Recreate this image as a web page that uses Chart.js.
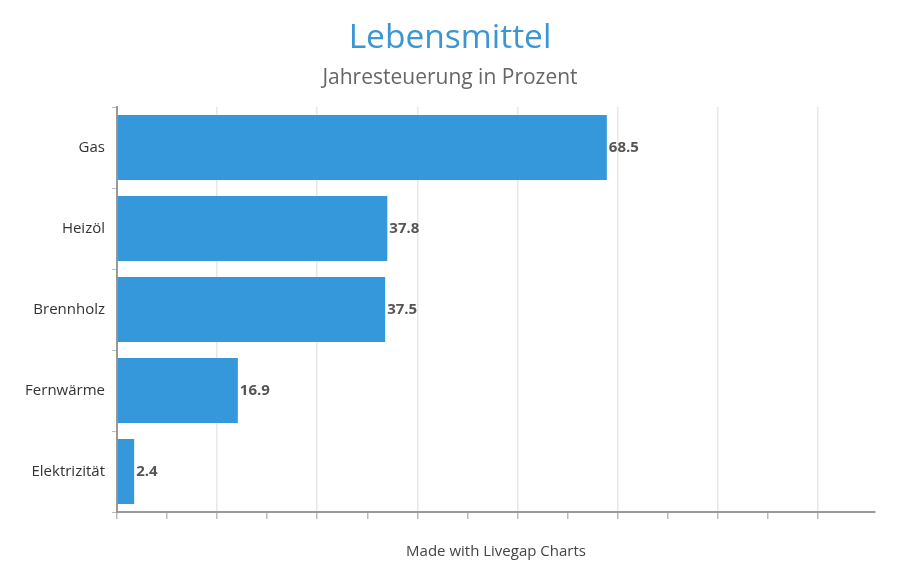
<!DOCTYPE html>
<html>
<head>
<meta charset="utf-8">
<script src="https://cdn.jsdelivr.net/npm/chart.js@4/dist/chart.umd.min.js"></script>
<style>
  html, body { margin: 0; padding: 0; background: #fff; }
  #wrap { width: 900px; height: 579px; }
</style>
</head>
<body>
<div id="wrap"><canvas id="chart"></canvas></div>
<script>
// Data
const categories = ['Gas', 'Heizöl', 'Brennholz', 'Fernwärme', 'Elektrizität']
const values = [68.5, 37.8, 37.5, 16.9, 2.4]

const titleText = 'Lebensmittel'
const subtitleText = 'Jahresteuerung in Prozent'
const footerText = 'Made with Livegap Charts'

const FONT = "'Open Sans', 'Noto Sans', sans-serif"

// value labels right of each bar
const valueLabels = {
    id: 'valueLabels',
    afterDatasetsDraw(chart) {
        const ctx = chart.ctx
        const meta = chart.getDatasetMeta(0)
        ctx.save()
        ctx.font = 'bold 15px ' + FONT
        ctx.fillStyle = '#555'
        ctx.textAlign = 'left'
        ctx.textBaseline = 'middle'
        meta.data.forEach((bar, i) => {
            ctx.fillText(values[i].toFixed(1), bar.x + 2, bar.y)
        })
        ctx.restore()
    }
}

// footer credit under the plot
const footer = {
    id: 'footer',
    afterDraw(chart) {
        const { ctx, chartArea } = chart
        ctx.save()
        ctx.font = '15px ' + FONT
        ctx.fillStyle = '#444'
        ctx.textAlign = 'center'
        ctx.textBaseline = 'middle'
        ctx.fillText(footerText, (chartArea.left + chartArea.right) / 2, 552)
        ctx.restore()
    }
}

new Chart(document.getElementById('chart'), {
    type: 'bar',
    data: {
        labels: categories,
        datasets: [{
            data: values,
            backgroundColor: '#3498db',
            borderWidth: 0,
            categoryPercentage: 0.8,
            barPercentage: 1
        }]
    },
    options: {
        indexAxis: 'y',
        responsive: true,
        maintainAspectRatio: false,
        animation: false,
        layout: { padding: { left: 25, right: 25, top: 0, bottom: 0 } },
        plugins: {
            legend: { display: false },
            tooltip: { enabled: false },
            title: {
                display: true,
                text: titleText,
                color: '#3b96d4',
                font: { family: FONT, size: 33.5, weight: 'normal' },
                padding: { top: 18, bottom: 7.6 }
            },
            subtitle: {
                display: true,
                text: subtitleText,
                color: '#666',
                font: { family: FONT, size: 21, weight: 'normal' },
                padding: { top: 0, bottom: 16 }
            }
        },
        scales: {
            x: {
                min: 0,
                max: 106,
                afterBuildTicks(scale) {
                    scale.ticks = scale.ticks.filter(t => t.value % 7 === 0)
                },
                afterFit(scale) { scale.height = 67 },
                ticks: { stepSize: 7, display: false },
                grid: {
                    color: c => (c.tick && c.tick.value % 14 === 0) ? '#e8e8e8' : 'rgba(0,0,0,0)',
                    tickColor: '#bbb',
                    tickLength: 7,
                    lineWidth: 1.5
                },
                border: { color: '#999', width: 2 }
            },
            y: {
                afterFit(scale) { scale.width = 92 },
                ticks: {
                    color: '#333',
                    padding: 7,
                    font: { family: FONT, size: 15 }
                },
                grid: {
                    offset: true,
                    drawOnChartArea: false,
                    tickLength: 5,
                    tickColor: '#bbb'
                },
                border: { color: '#999', width: 2 }
            }
        }
    },
    plugins: [valueLabels, footer]
})
</script>
</body>
</html>
